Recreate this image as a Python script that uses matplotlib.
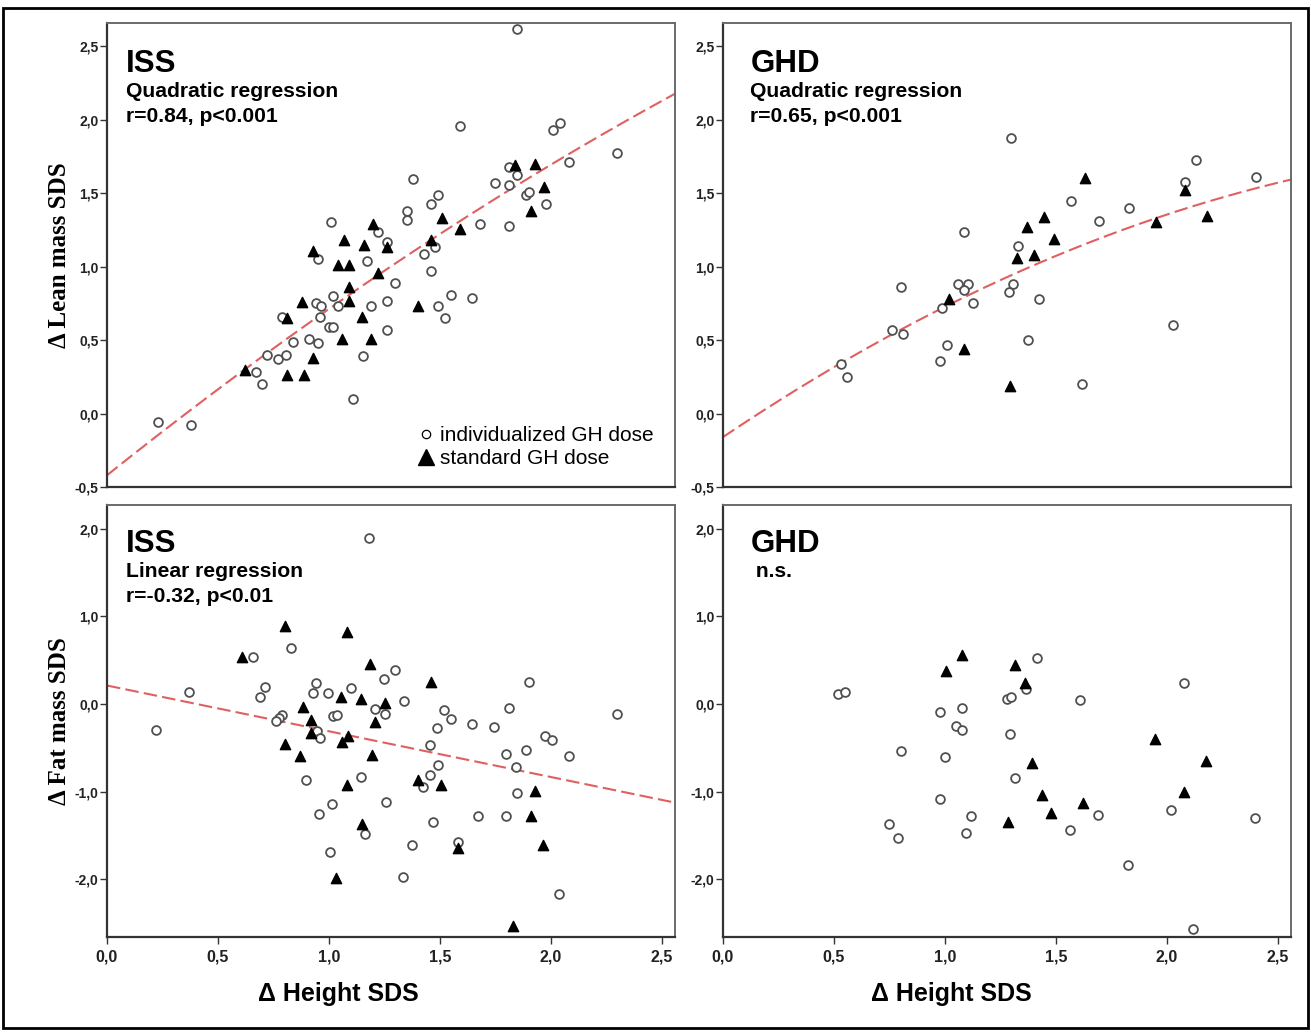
import matplotlib
matplotlib.use('Agg')

import matplotlib.pyplot as plt
import numpy as np
from matplotlib.lines import Line2D
from matplotlib.patches import Rectangle
from matplotlib.ticker import FuncFormatter, MultipleLocator

# ---- data ----
# ISS, lean mass (top left)
iss_lean_ind_x = [0.23, 0.38, 0.67, 0.70, 0.72, 0.77, 0.806, 0.84, 0.91, 0.95, 0.79, 0.94,
                  0.965, 0.96, 1.00, 1.02, 1.02, 1.04, 1.19, 1.155, 1.11, 1.26, 1.26, 1.30,
                  1.17, 0.95, 1.26, 1.85, 1.59, 2.01, 2.04, 2.30, 2.08, 1.81, 1.85, 1.75,
                  1.81, 1.89, 1.90, 1.98, 1.81, 1.68, 1.48, 1.49, 1.46, 1.38, 1.35, 1.35,
                  1.22, 1.43, 1.46, 1.49, 1.525, 1.55, 1.645, 1.01]
iss_lean_ind_y = [-0.055, -0.08, 0.28, 0.20, 0.40, 0.375, 0.40, 0.49, 0.51, 0.48, 0.66, 0.75,
                  0.73, 0.66, 0.59, 0.59, 0.80, 0.73, 0.73, 0.39, 0.10, 0.77, 0.57, 0.89,
                  1.04, 1.05, 1.17, 2.62, 1.96, 1.93, 1.98, 1.775, 1.71, 1.68, 1.625, 1.57,
                  1.555, 1.49, 1.51, 1.43, 1.28, 1.29, 1.135, 1.49, 1.43, 1.60, 1.38, 1.32,
                  1.235, 1.09, 0.97, 0.73, 0.65, 0.81, 0.79, 1.305]
iss_lean_std_x = [0.62, 0.81, 0.89, 0.93, 0.81, 0.88, 1.06, 1.09, 1.09, 1.15, 1.19, 1.22,
                  1.04, 1.09, 0.93, 1.07, 1.16, 1.26, 1.20, 1.40, 1.46, 1.51, 1.59, 1.84,
                  1.93, 1.97, 1.91]
iss_lean_std_y = [0.30, 0.26, 0.26, 0.38, 0.65, 0.76, 0.51, 0.77, 0.86, 0.66, 0.51, 0.96,
                  1.015, 1.015, 1.11, 1.18, 1.15, 1.135, 1.29, 0.73, 1.18, 1.33, 1.26, 1.69,
                  1.70, 1.54, 1.38]

# GHD, lean mass (top right)
ghd_lean_ind_x = [1.30, 1.084, 1.33, 0.80, 1.06, 1.106, 1.085, 1.127, 1.306, 1.287, 1.426,
                  0.987, 0.76, 0.81, 1.01, 0.98, 1.375, 0.53, 0.56, 2.13, 2.40, 2.084, 1.57,
                  1.83, 1.695, 2.03, 1.62]
ghd_lean_ind_y = [1.877, 1.24, 1.14, 0.86, 0.885, 0.885, 0.84, 0.75, 0.88, 0.83, 0.78,
                  0.72, 0.57, 0.54, 0.47, 0.36, 0.50, 0.34, 0.25, 1.73, 1.61, 1.577, 1.447,
                  1.40, 1.31, 0.60, 0.20]
ghd_lean_std_x = [1.447, 1.37, 1.326, 1.40, 1.018, 1.084, 1.295, 1.632, 2.084, 1.95, 2.18, 1.49]
ghd_lean_std_y = [1.336, 1.27, 1.06, 1.083, 0.78, 0.44, 0.19, 1.604, 1.52, 1.306, 1.343, 1.19]

# ISS, fat mass (bottom left)
iss_fat_ind_x = [1.18, 0.83, 0.66, 1.25, 1.30, 0.37, 0.71, 0.69, 0.94, 0.93, 0.995, 1.10,
                 1.21, 1.255, 0.79, 0.775, 0.76, 1.02, 1.035, 0.22, 0.946, 0.96, 0.897, 1.147,
                 1.013, 0.957, 1.257, 1.163, 1.004, 1.90, 1.34, 1.52, 1.55, 1.486, 1.644,
                 1.746, 1.813, 2.30, 1.975, 2.005, 2.08, 1.455, 1.80, 1.887, 1.843, 1.49,
                 1.457, 1.426, 1.846, 1.67, 1.80, 1.47, 1.375, 1.583, 1.336, 2.035]
iss_fat_ind_y = [1.89, 0.64, 0.53, 0.29, 0.39, 0.14, 0.19, 0.08, 0.24, 0.12, 0.13, 0.18,
                 -0.06, -0.11, -0.13, -0.16, -0.19, -0.14, -0.13, -0.30, -0.31, -0.39, -0.87,
                 -0.83, -1.14, -1.26, -1.125, -1.48, -1.69, 0.25, 0.03, -0.07, -0.17, -0.27,
                 -0.23, -0.26, -0.05, -0.11, -0.37, -0.415, -0.59, -0.47, -0.57, -0.53, -0.72,
                 -0.695, -0.81, -0.95, -1.02, -1.28, -1.28, -1.345, -1.61, -1.58, -1.975, -2.165]
iss_fat_std_x = [0.80, 1.08, 0.61, 1.185, 1.055, 1.147, 1.255, 1.21, 0.885, 0.92, 0.92,
                 1.087, 1.06, 0.80, 0.87, 1.194, 1.08, 1.148, 1.03, 1.46, 1.40, 1.505, 1.93,
                 1.91, 1.583, 1.963, 1.83]
iss_fat_std_y = [0.89, 0.82, 0.535, 0.46, 0.08, 0.06, 0.01, -0.21, -0.04, -0.18, -0.33,
                 -0.365, -0.44, -0.46, -0.59, -0.585, -0.92, -1.375, -1.99, 0.25, -0.87, -0.93,
                 -0.99, -1.28, -1.645, -1.61, -2.53]

# GHD, fat mass (bottom right)
ghd_fat_ind_x = [1.417, 1.366, 0.519, 0.549, 1.279, 1.298, 0.976, 1.075, 1.05, 1.077, 1.294,
                 0.80, 0.999, 1.318, 0.976, 1.118, 0.749, 0.79, 1.095, 2.076, 1.611, 1.688,
                 2.02, 2.396, 1.564, 1.825, 2.12]
ghd_fat_ind_y = [0.52, 0.175, 0.11, 0.14, 0.057, 0.076, -0.095, -0.046, -0.25, -0.30, -0.345,
                 -0.54, -0.61, -0.85, -1.09, -1.28, -1.37, -1.53, -1.47, 0.24, 0.04, -1.265,
                 -1.215, -1.30, -1.44, -1.84, -2.57]
ghd_fat_std_x = [1.077, 1.006, 1.318, 1.363, 1.394, 1.438, 1.286, 1.48, 1.946, 2.175, 2.076, 1.623]
ghd_fat_std_y = [0.56, 0.38, 0.44, 0.24, -0.67, -1.04, -1.35, -1.24, -0.40, -0.65, -1.01, -1.13]

# fitted curves (coefficients, highest power first)
iss_lean_fit = [-0.0754, 1.208, -0.42]
ghd_lean_fit = [-0.1296, 1.0168, -0.16]
iss_fat_fit = [-0.522, 0.21]

panel_titles = ["ISS", "GHD", "ISS", "GHD"]
panel_notes = [["Quadratic regression", "r=0.84, p<0.001"],
               ["Quadratic regression", "r=0.65, p<0.001"],
               ["Linear regression", "r=-0.32, p<0.01"],
               [" n.s."]]

W, H = 1311, 1032
fig = plt.figure(figsize=(W / 100, H / 100), dpi=100)
fig.patch.set_facecolor('white')


def px_axes(x0, y0, x1, y1):
    return fig.add_axes([x0 / W, 1 - y1 / H, (x1 - x0) / W, (y1 - y0) / H])


ax_tl = px_axes(107, 23, 675, 487)
ax_tr = px_axes(723, 23, 1291, 487)
ax_bl = px_axes(107, 505, 675, 937)
ax_br = px_axes(723, 505, 1291, 937)
axes = [ax_tl, ax_tr, ax_bl, ax_br]

narrow = ['Liberation Sans Narrow', 'Liberation Sans', 'DejaVu Sans']
sans = ['Liberation Sans', 'DejaVu Sans']
comma = FuncFormatter(lambda v, p: f"{v:.1f}".replace('.', ','))

sets = [(iss_lean_ind_x, iss_lean_ind_y, iss_lean_std_x, iss_lean_std_y),
        (ghd_lean_ind_x, ghd_lean_ind_y, ghd_lean_std_x, ghd_lean_std_y),
        (iss_fat_ind_x, iss_fat_ind_y, iss_fat_std_x, iss_fat_std_y),
        (ghd_fat_ind_x, ghd_fat_ind_y, ghd_fat_std_x, ghd_fat_std_y)]
fits = [iss_lean_fit, ghd_lean_fit, iss_fat_fit, None]

for i, ax in enumerate(axes):
    ix, iy, sx, sy = sets[i]
    ax.set_xlim(0, 2.56)
    if i < 2:
        ax.set_ylim(-0.5, 2.66)
        ax.yaxis.set_major_locator(MultipleLocator(0.5))
    else:
        ax.set_ylim(-2.66, 2.27)
        ax.yaxis.set_major_locator(MultipleLocator(1.0))
    ax.xaxis.set_major_locator(MultipleLocator(0.5))
    ax.xaxis.set_major_formatter(comma)
    ax.yaxis.set_major_formatter(comma)

    if fits[i] is not None:
        xx = np.linspace(0, 2.56, 200)
        ax.plot(xx, np.polyval(fits[i], xx), color='#e06060', lw=1.5,
                linestyle=(0, (6.5, 2.5)), zorder=1)

    ax.scatter(ix, iy, s=40, facecolors='white', edgecolors='#505050',
               linewidths=1.3, zorder=3)
    ax.scatter(sx, sy, s=55, marker='^', color='black', zorder=4)

    for side in ['left', 'bottom']:
        ax.spines[side].set_color('#333333')
        ax.spines[side].set_linewidth(1.6)
    for side in ['top', 'right']:
        ax.spines[side].set_color('#6a6a6a')
        ax.spines[side].set_linewidth(1.4)

    ax.tick_params(axis='y', direction='out', length=5, width=1, color='#333333', pad=1)
    for lab in ax.get_yticklabels():
        lab.set_fontfamily(narrow)
        lab.set_fontweight('bold')
        lab.set_fontsize(10)
        lab.set_color('#222222')
    if i < 2:
        ax.tick_params(axis='x', length=0, labelbottom=False)
    else:
        ax.tick_params(axis='x', direction='out', length=5, width=1, color='#333333', pad=4)
        for lab in ax.get_xticklabels():
            lab.set_fontfamily(sans)
            lab.set_fontweight('bold')
            lab.set_fontsize(11.5)
            lab.set_color('#222222')

    # panel annotation
    tx = 0.033 if i % 2 == 0 else 0.048
    if i < 2:
        ys = [0.895, 0.840, 0.787]
    else:
        ys = [0.892, 0.834, 0.776]
    ax.text(tx, ys[0], panel_titles[i], transform=ax.transAxes, fontsize=22.5,
            fontweight='bold', family=sans, va='baseline')
    for k, note in enumerate(panel_notes[i]):
        ax.text(tx, ys[k + 1], note, transform=ax.transAxes, fontsize=15.2,
                fontweight='bold', family=sans, va='baseline')

# axis labels
ax_tl.set_ylabel('\u0394 Lean mass SDS', fontsize=18, fontweight='bold',
                 family=['Liberation Serif', 'DejaVu Serif'])
ax_tl.yaxis.set_label_coords(-0.064, 0.5)
ax_bl.set_ylabel('\u0394 Fat mass SDS', fontsize=18, fontweight='bold',
                 family=['Liberation Serif', 'DejaVu Serif'])
ax_bl.yaxis.set_label_coords(-0.064, 0.5)
for ax, xc in [(ax_bl, 0.407), (ax_br, 0.402)]:
    ax.set_xlabel('\u0394 Height SDS', fontsize=18, fontweight='bold', family=sans)
    ax.xaxis.set_label_coords(xc, -0.105)

# legend in the ISS lean mass panel
handles = [Line2D([], [], marker='o', linestyle='none', markersize=6,
                  markerfacecolor='white', markeredgecolor='black', markeredgewidth=0.9),
           Line2D([], [], marker='^', linestyle='none', markersize=12,
                  markerfacecolor='black', markeredgecolor='black')]
ax_tl.legend(handles, ['individualized GH dose', 'standard GH dose'],
             loc='lower right', bbox_to_anchor=(0.963, 0.04), frameon=False,
             prop={'family': sans, 'size': 15}, handlelength=0.8, handletextpad=0.3,
             labelspacing=0.2, borderpad=0, borderaxespad=0)

# outer frame of the figure
fig.patches.append(Rectangle((3 / W, 4 / H), (W - 6) / W, (H - 12) / H,
                             transform=fig.transFigure, fill=False,
                             edgecolor='black', linewidth=2))

fig.savefig('out.png', dpi=100)
